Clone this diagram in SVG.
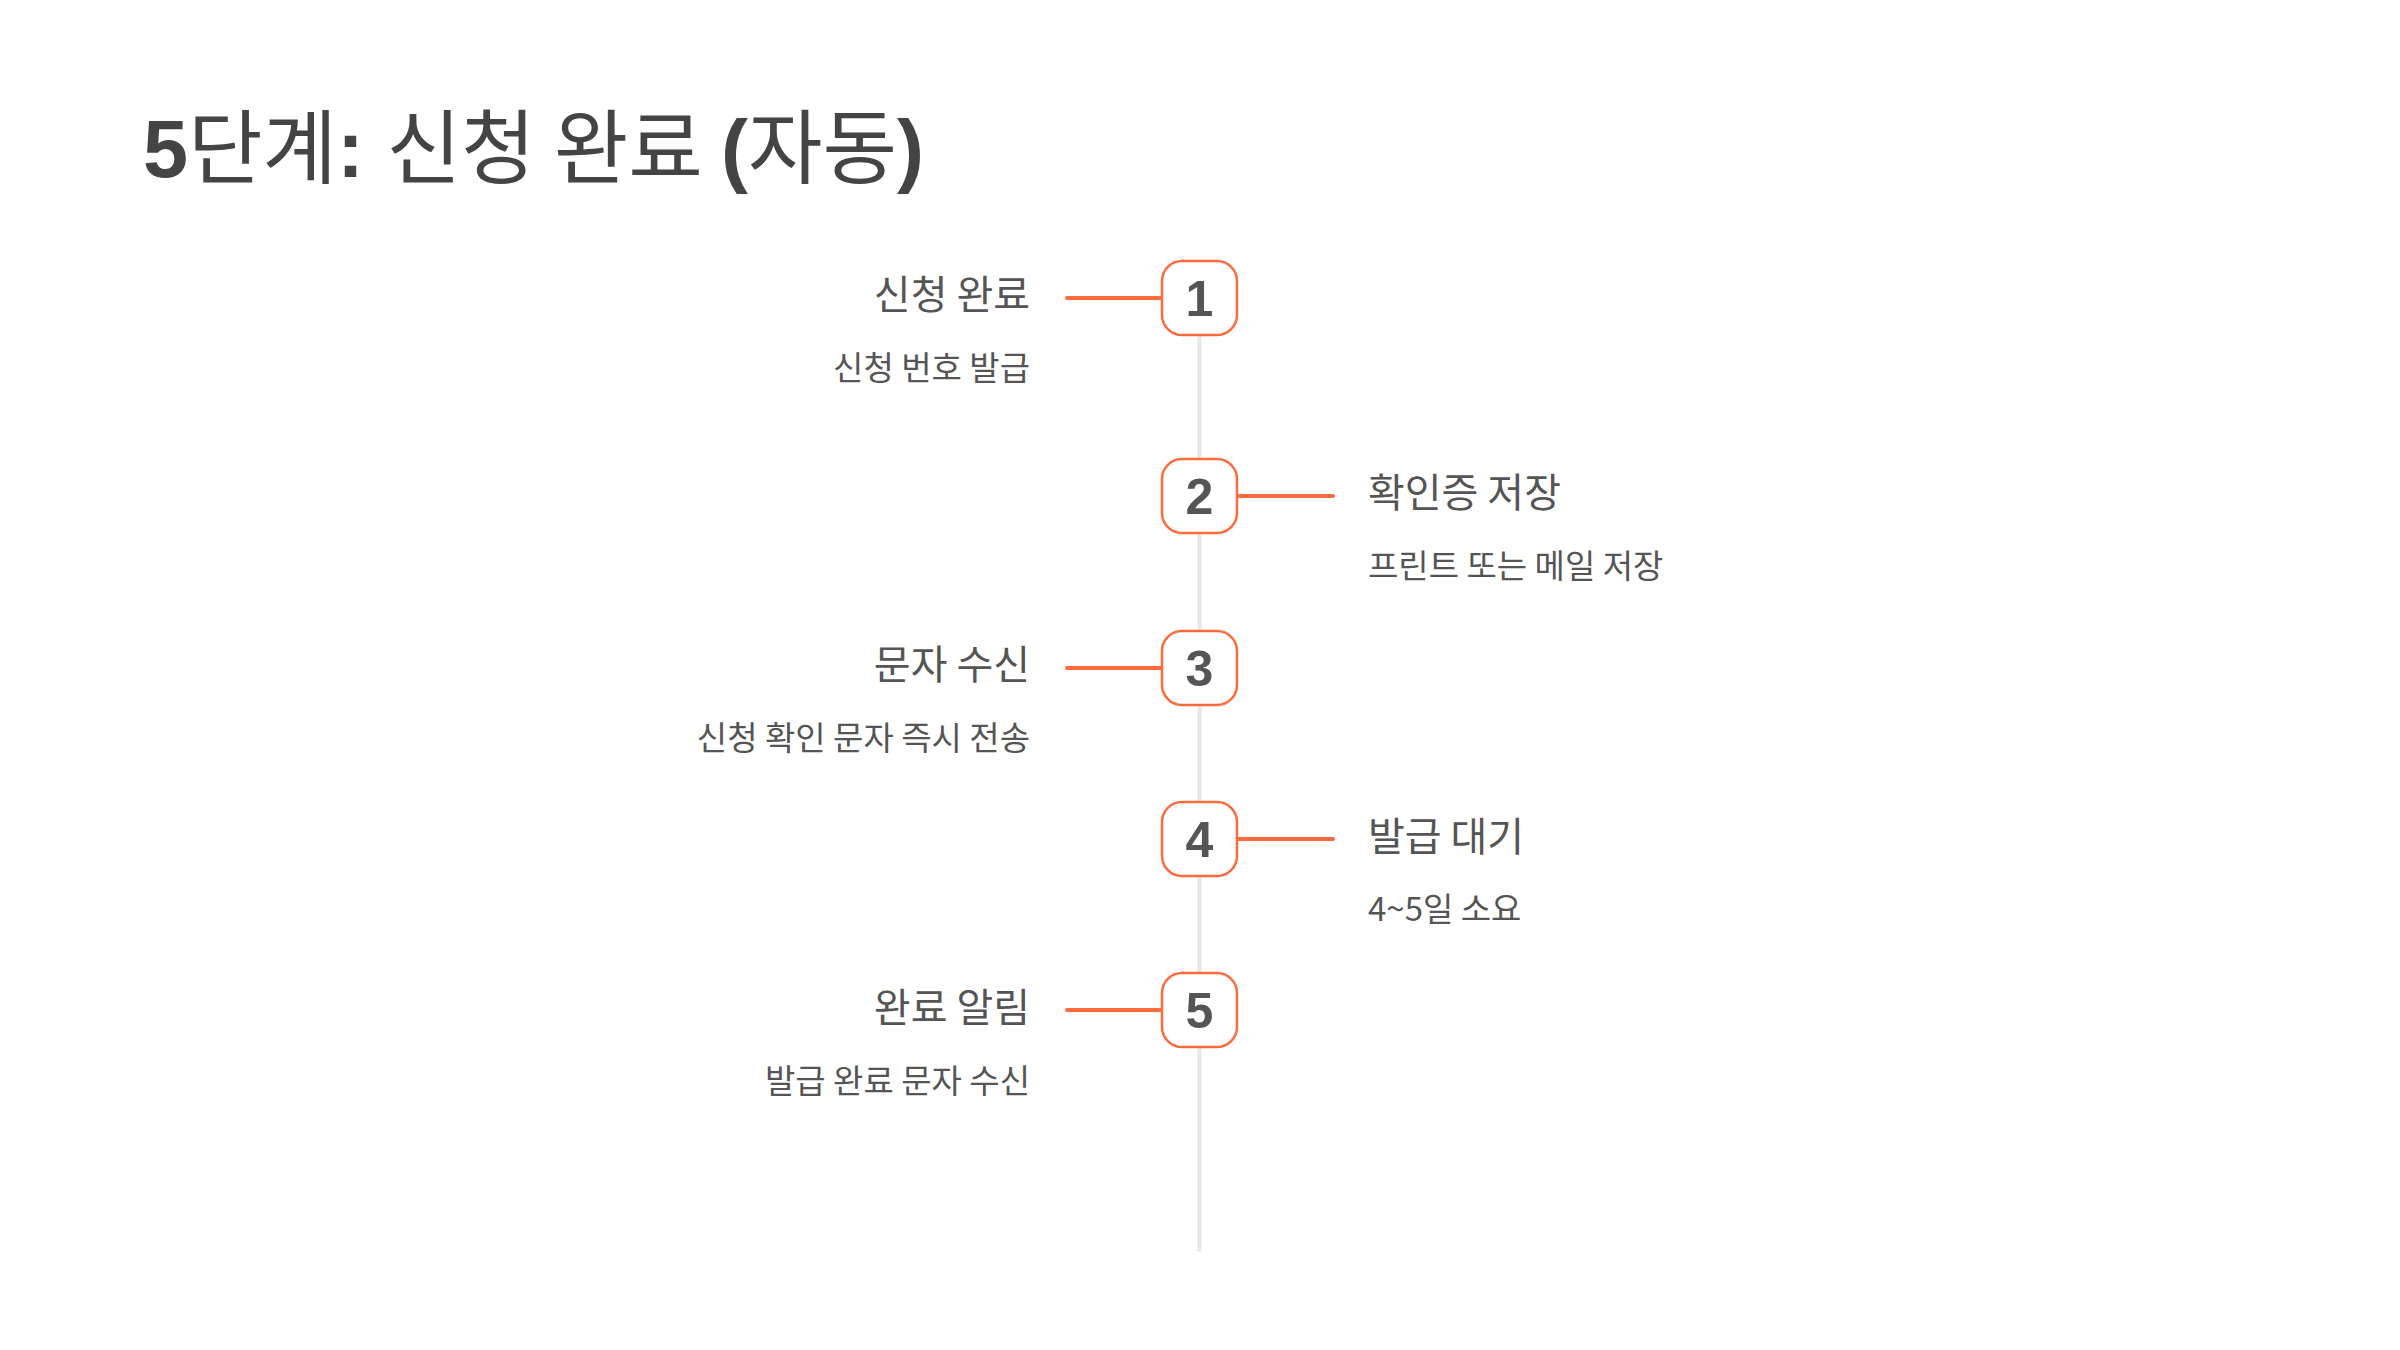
<svg xmlns="http://www.w3.org/2000/svg" width="2400" height="1350" viewBox="0 0 2400 1350">
<style>
.bg{fill:#ffffff}
.title{font-family:"Liberation Sans","Noto Sans CJK KR",sans-serif;font-size:81px;fill:#444444}
.b{font-weight:700}
.h{font-family:"Noto Sans CJK KR",sans-serif;font-weight:400}
.spine{stroke:#e8e8e8;stroke-width:4;stroke-linecap:round;fill:none}
.conn{stroke:#ff6b3d;stroke-width:4;stroke-linecap:round;fill:none}
.box{fill:#ffffff;stroke:#ff6b3d;stroke-width:2.5}
.num{font-family:"Liberation Sans",sans-serif;font-weight:700;font-size:50px;fill:#555555;text-anchor:middle}
.lbl{font-family:"Noto Sans CJK KR",sans-serif;font-size:40px;fill:#555555}
.sub{font-family:"Noto Sans CJK KR",sans-serif;font-size:33px;fill:#555555}
.l{text-anchor:end}
</style>
<rect class="bg" x="0" y="0" width="2400" height="1350"/>
<text class="title" x="143" y="177"><tspan class="b">5</tspan><tspan class="h">단계</tspan><tspan class="b">: </tspan><tspan class="h">신청 완료 </tspan><tspan class="b">(</tspan><tspan class="h">자동</tspan><tspan class="b">)</tspan></text>
<g id="connectors">
<line class="spine" x1="1199.5" y1="298" x2="1199.5" y2="1250"/>
<line class="conn" x1="1067" y1="298" x2="1162" y2="298"/>
<line class="conn" x1="1237" y1="496" x2="1333" y2="496"/>
<line class="conn" x1="1067" y1="668" x2="1162" y2="668"/>
<line class="conn" x1="1237" y1="839" x2="1333" y2="839"/>
<line class="conn" x1="1067" y1="1010" x2="1162" y2="1010"/>
</g>
<g id="step1">
<rect class="box" x="1162" y="261" width="75" height="74" rx="20"/>
<text class="num" x="1199.5" y="316">1</text>
<text class="lbl l" x="1030" y="309">신청 완료</text>
<text class="sub l" x="1030" y="380">신청 번호 발급</text>
</g>
<g id="step2">
<rect class="box" x="1162" y="459" width="75" height="74" rx="20"/>
<text class="num" x="1199.5" y="514">2</text>
<text class="lbl" x="1368" y="507">확인증 저장</text>
<text class="sub" x="1368" y="578">프린트 또는 메일 저장</text>
</g>
<g id="step3">
<rect class="box" x="1162" y="631" width="75" height="74" rx="20"/>
<text class="num" x="1199.5" y="686">3</text>
<text class="lbl l" x="1030" y="679">문자 수신</text>
<text class="sub l" x="1030" y="750">신청 확인 문자 즉시 전송</text>
</g>
<g id="step4">
<rect class="box" x="1162" y="802" width="75" height="74" rx="20"/>
<text class="num" x="1199.5" y="857">4</text>
<text class="lbl" x="1368" y="851">발급 대기</text>
<text class="sub" x="1368" y="921">4~5일 소요</text>
</g>
<g id="step5">
<rect class="box" x="1162" y="973" width="75" height="74" rx="20"/>
<text class="num" x="1199.5" y="1028">5</text>
<text class="lbl l" x="1030" y="1022">완료 알림</text>
<text class="sub l" x="1030" y="1093">발급 완료 문자 수신</text>
</g>
</svg>
